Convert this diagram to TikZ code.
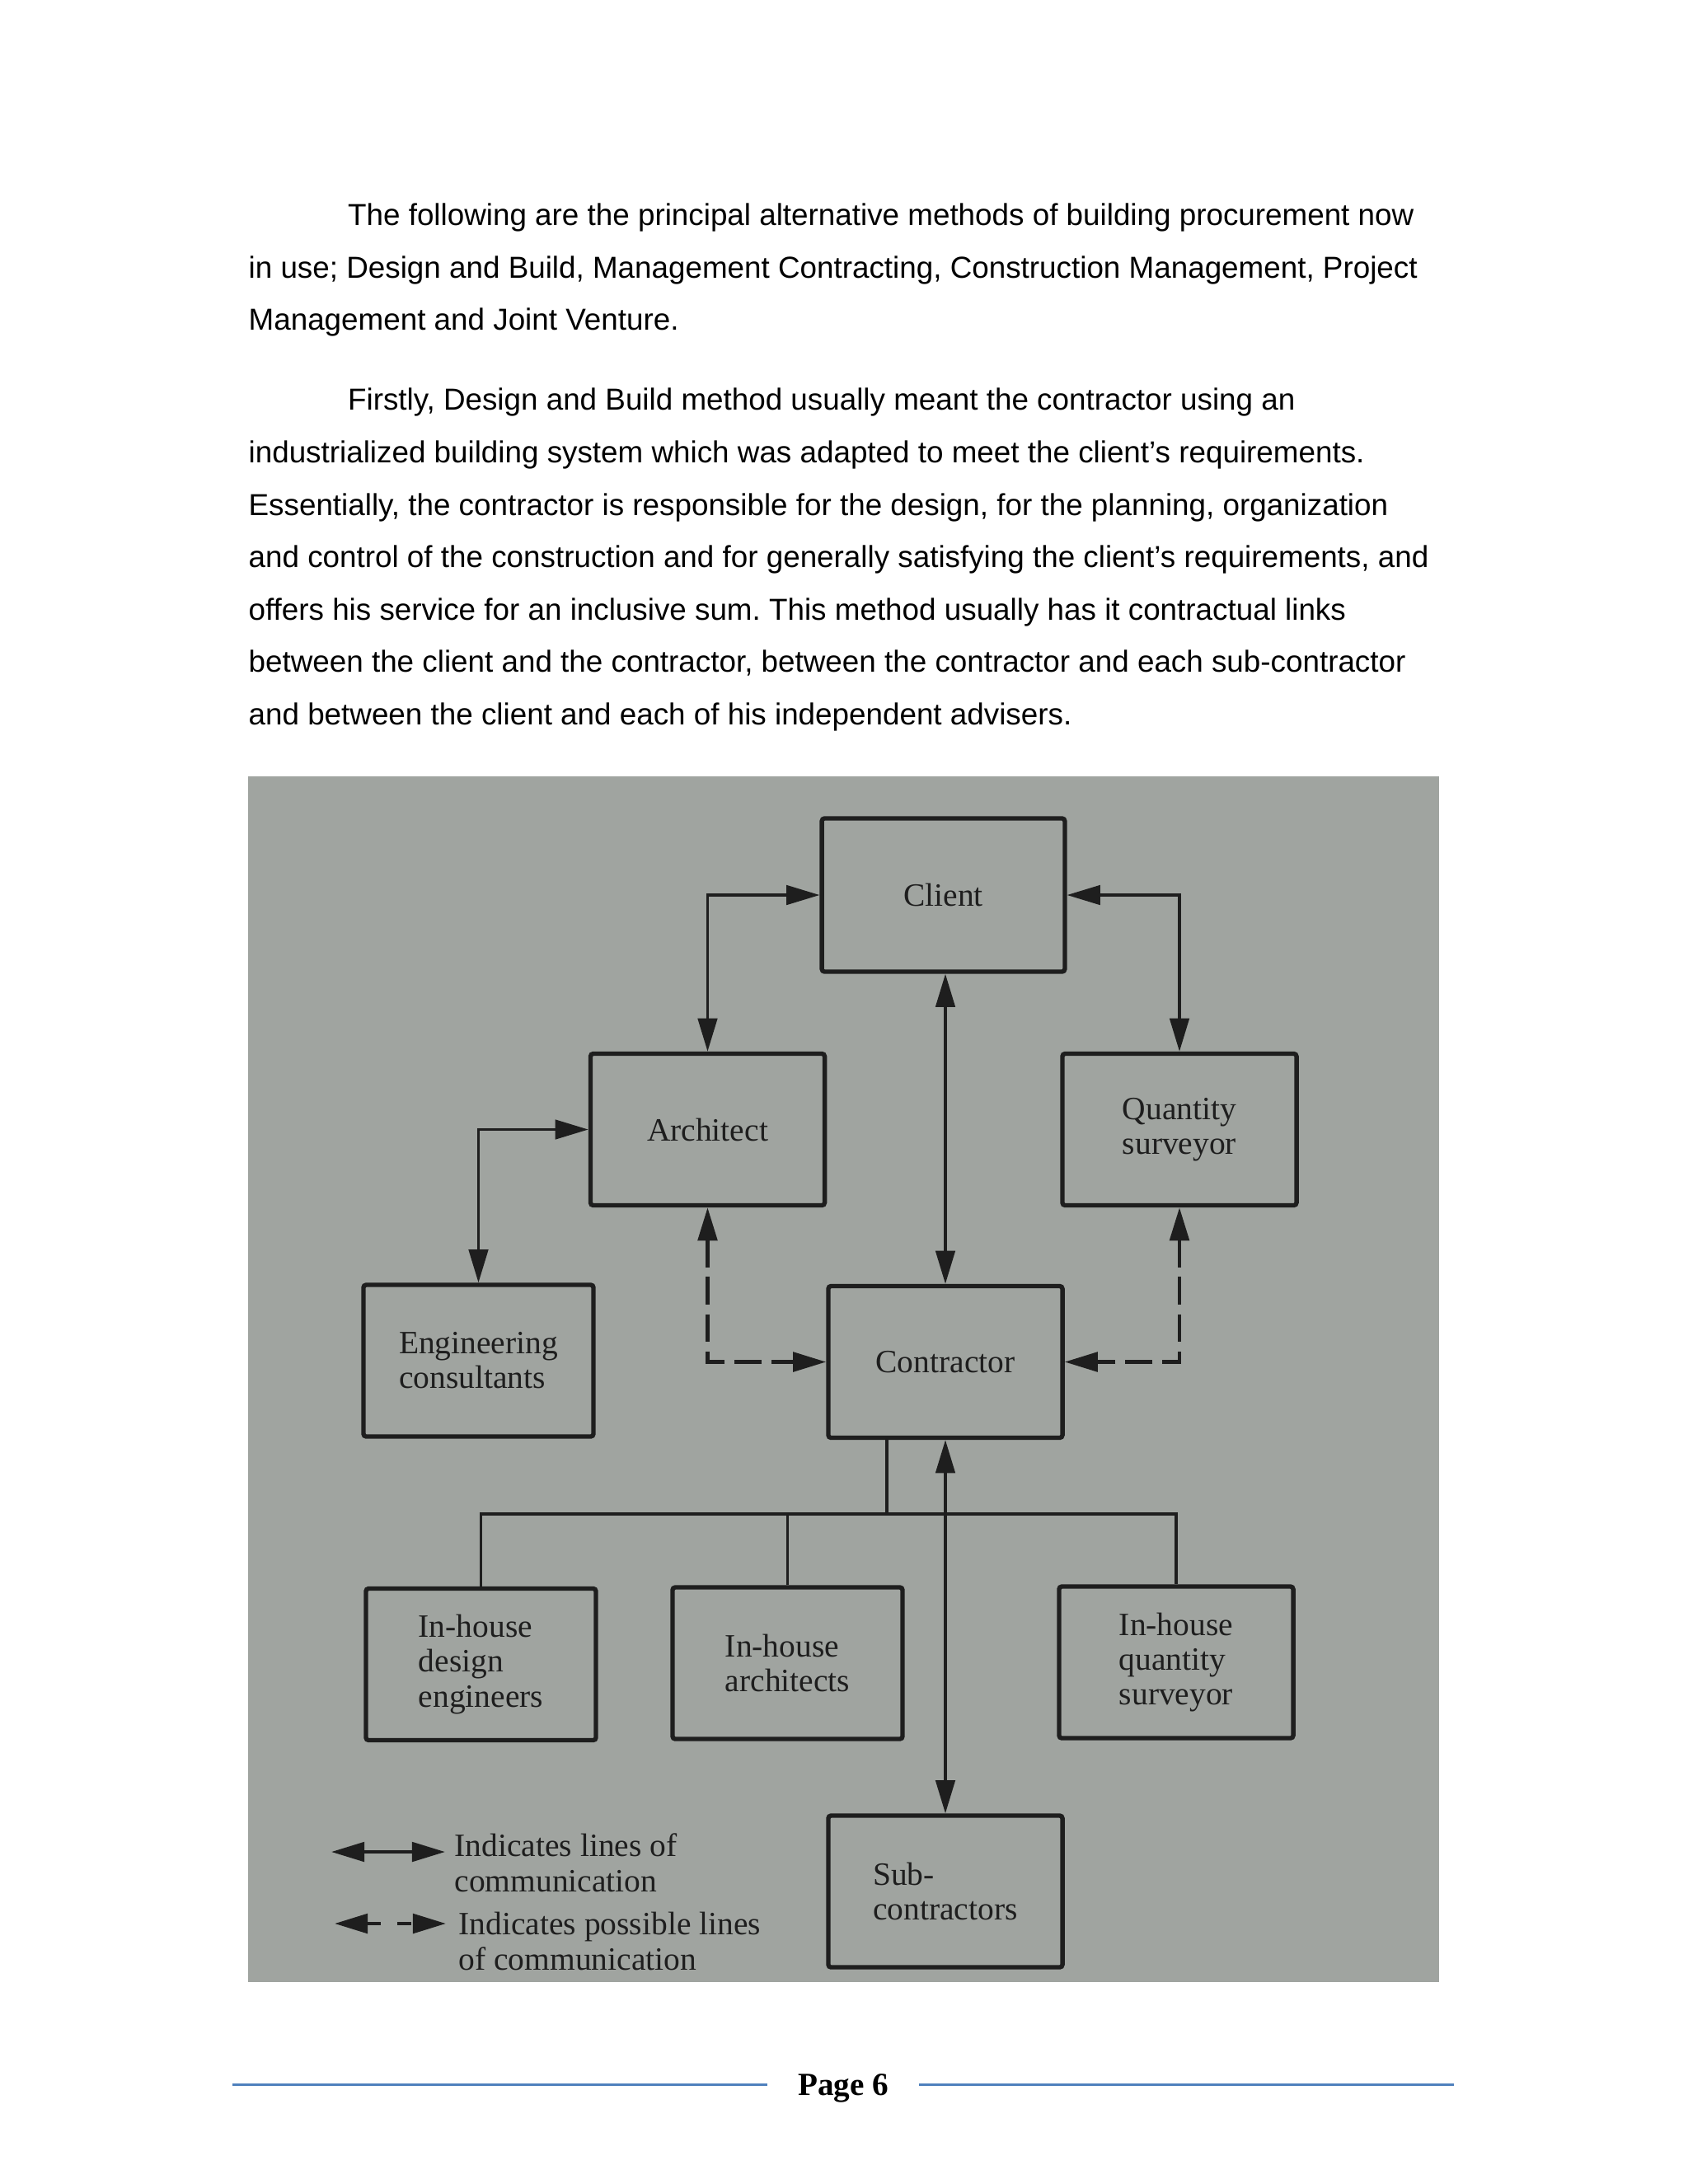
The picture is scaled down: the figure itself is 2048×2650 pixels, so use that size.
\documentclass[tikz,border=0pt]{standalone}
\usepackage{fontspec}
\setmainfont{Liberation Serif}
\newfontfamily\bodyfont{Liberation Sans}
\newfontfamily\scanfont{Liberation Serif}
\usetikzlibrary{arrows.meta,calc}
\definecolor{scangrey}{RGB}{160,164,160}
\definecolor{ink}{RGB}{30,30,30}
\definecolor{footblue}{RGB}{79,129,189}
\frenchspacing

\begin{document}
\begin{tikzpicture}[x=0.2988pt, y=-0.2988pt,
		>={Triangle[length=12pt, width=7pt]},
		bodytext/.style={anchor=base west, align=left, inner sep=0pt, font=\bodyfont\fontsize{11}{18.975}\selectfont},
		procbox/.style={draw=ink, line width=1.6pt, rounded corners=1pt, minimum width=84.9pt, minimum height=55pt, inner sep=0pt, align=left, text=ink, font=\scanfont\fontsize{11.8}{12.6}\selectfont},
		comm/.style={draw=ink, line width=1pt, <->},
		maybe/.style={comm, line width=1.3pt, dash pattern=on 10pt off 3.5pt},
		feed/.style={draw=ink, line width=1.1pt},
		legendtext/.style={anchor=base west, align=left, inner sep=0pt, text=ink, font=\scanfont\fontsize{11.8}{12.6}\selectfont},
		footrule/.style={draw=footblue, line width=0.9pt}]

		\useasboundingbox (0,0) rectangle (2048,2650);

		% text above the figure (base = last line)
		\node[bodytext] (para1) at (301,400.8) {\hspace*{36pt}The following are the principal alternative methods of building procurement now\\
			in use; Design and Build, Management Contracting, Construction Management, Project\\
			Management and Joint Venture.};
		\node[bodytext] (para2) at (301,879) {\hspace*{36pt}Firstly, Design and Build method usually meant the contractor using an\\
			industrialized building system which was adapted to meet the client’s requirements.\\
			Essentially, the contractor is responsible for the design, for the planning, organization\\
			and control of the construction and for generally satisfying the client’s requirements, and\\
			offers his service for an inclusive sum. This method usually has it contractual links\\
			between the client and the contractor, between the contractor and each sub-contractor\\
			and between the client and each of his independent advisers.};

		% scanned figure
		\fill[scangrey] (301,942) rectangle (1746,2405);

		\node[procbox, minimum width=88.1pt, minimum height=55.6pt] (client) at (1144.5,1086) {Client};
		\node[procbox] (arch) at (858.5,1370.5) {Architect};
		\node[procbox] (qs) at (1431,1370.5) {Quantity\\surveyor};
		\node[procbox, minimum width=83.4pt] (eng) at (580.5,1651) {Engineering\\consultants};
		\node[procbox] (contr) at (1147,1652.5) {Contractor};
		\node[procbox, minimum width=83.4pt] (ihd) at (583.5,2019.5) {In-house\\design\\engineers};
		\node[procbox, minimum width=83.4pt] (iha) at (955.5,2018) {In-house\\architects};
		\node[procbox] (iqs) at (1427,2017) {In-house\\quantity\\surveyor};
		\node[procbox] (sub) at (1147,2295) {Sub-\\contractors};

		\draw[comm] (arch.north) |- (client.west);
		\draw[comm] (qs.north) |- (client.east);
		\draw[comm] (client.south -| contr.north) -- (contr.north);
		\draw[comm] (eng.north) |- (arch.west);
		\draw[maybe] (arch.south) |- (contr.west);
		\draw[maybe] (qs.south) |- (contr.east);

		\coordinate (bus) at (1076,1837);
		\draw[feed] (contr.south -| bus) -- (bus);
		\draw[feed] (ihd.north) |- (iqs.north |- bus) -- (iqs.north);
		\draw[feed] (iha.north) -- (iha.north |- bus);
		\draw[comm] (contr.south) -- (sub.north);

		% key
		\coordinate (keyA) at (402,2247);
		\coordinate (keyB) at (540,2247);
		\coordinate (keyC) at (406,2334);
		\coordinate (keyD) at (541,2334);
		\draw[comm, line width=1.2pt] (keyA) -- (keyB);
		\draw[comm, line width=1.3pt, dash pattern=on 5pt off 6pt] (keyC) -- (keyD);
		\node[legendtext] (key1) at (551,2295) {Indicates lines of\\communication};
		\node[legendtext] (key2) at (556,2390) {Indicates possible lines\\of communication};

		% footer
		\node[anchor=base, inner xsep=11pt, inner ysep=0pt, font=\bfseries\fontsize{11.7}{14}\selectfont] (page) at (1023,2542) {Page 6};
		\coordinate (ruleL) at (282,2529);
		\coordinate (ruleR) at (1764,2529);
		\draw[footrule] (ruleL) -- (ruleL -| page.west);
		\draw[footrule] (ruleR -| page.east) -- (ruleR);

	\end{tikzpicture}
\end{document}
